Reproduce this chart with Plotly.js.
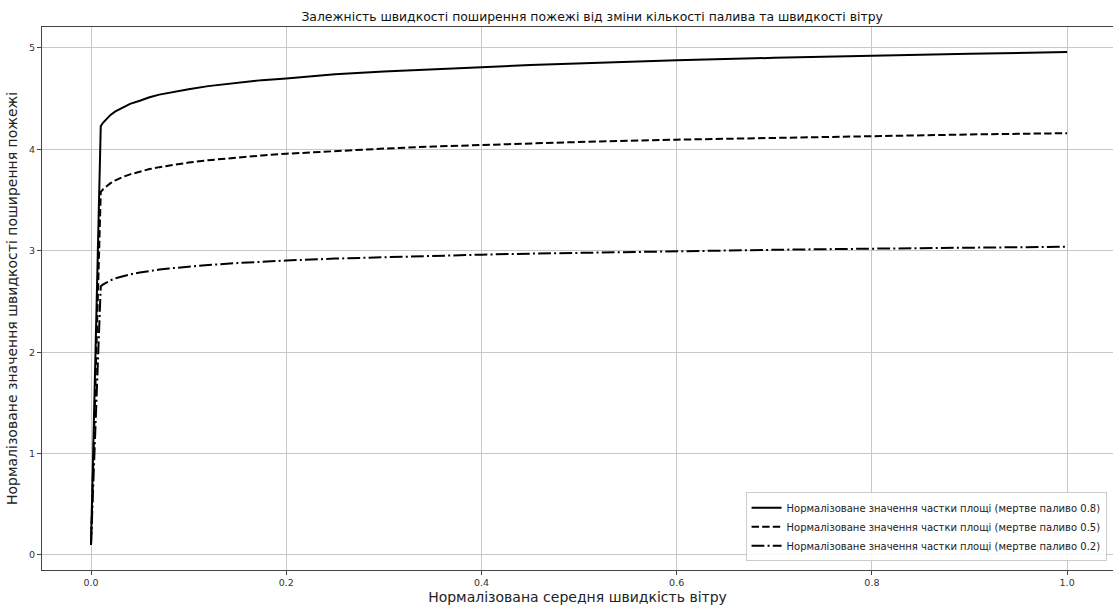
<!DOCTYPE html>
<html>
<head>
<meta charset="utf-8">
<script src="https://cdn.plot.ly/plotly-3.0.1.min.js"></script>
<style>html,body{margin:0;padding:0;overflow:hidden;background:#fff}#chart{width:1113px;height:605px}</style>
</head>
<body>
<div id="chart"></div>
<script>
const windSpeed = [0, 0.01, 0.0125, 0.015, 0.0175, 0.02, 0.025, 0.03, 0.035, 0.04, 0.05, 0.06, 0.07, 0.08, 0.09, 0.1, 0.12, 0.15, 0.175, 0.2, 0.25, 0.3, 0.35, 0.4, 0.45, 0.5, 0.6, 0.7, 0.8, 0.9, 1.0];
const dead08 = [0.10, 4.23, 4.265, 4.29, 4.318, 4.34, 4.375, 4.40, 4.428, 4.449, 4.48, 4.514, 4.54, 4.559, 4.578, 4.594, 4.624, 4.66, 4.683, 4.70, 4.74, 4.769, 4.793, 4.81, 4.833, 4.85, 4.879, 4.903, 4.925, 4.943, 4.96];
const dead05 = [0.10, 3.58, 3.608, 3.631, 3.65, 3.667, 3.695, 3.718, 3.737, 3.754, 3.783, 3.806, 3.825, 3.842, 3.857, 3.87, 3.893, 3.921, 3.94, 3.957, 3.985, 4.008, 4.028, 4.045, 4.059, 4.073, 4.096, 4.115, 4.132, 4.147, 4.16];
const dead02 = [0.10, 2.65, 2.669, 2.684, 2.697, 2.709, 2.728, 2.743, 2.756, 2.767, 2.786, 2.802, 2.815, 2.826, 2.836, 2.845, 2.86, 2.879, 2.892, 2.904, 2.923, 2.938, 2.951, 2.962, 2.972, 2.981, 2.997, 3.01, 3.021, 3.031, 3.04];
const seriesNames = [
  'Нормалізоване значення частки площі (мертве паливо 0.8)',
  'Нормалізоване значення частки площі (мертве паливо 0.5)',
  'Нормалізоване значення частки площі (мертве паливо 0.2)'
];
const xTicks = [0, 0.2, 0.4, 0.6, 0.8, 1.0];
const xTickText = ['0.0', '0.2', '0.4', '0.6', '0.8', '1.0'];
const yTicks = [0, 1, 2, 3, 4, 5];

const font = 'DejaVu Sans, sans-serif';
const dashes = ['solid', '7.4px,3.2px', '12.8px,3.2px,2px,3.2px'];
const ys = [dead08, dead05, dead02];
const traces = ys.map((y, i) => ({
  x: windSpeed, y: y, type: 'scatter', mode: 'lines', name: seriesNames[i],
  line: {color: '#000', width: 2, dash: dashes[i]}
}));

const layout = {
  width: 1113, height: 605,
  margin: {l: 42, r: 0, t: 27, b: 35},
  paper_bgcolor: '#fff', plot_bgcolor: '#fff',
  font: {family: font, color: '#222'},
  title: {text: 'Залежність швидкості поширення пожежі від зміни кількості палива та швидкості вітру',
    font: {family: font, size: 12.4, color: '#111'}, x: 0.532, xanchor: 'center', xref: 'container', y: 0.973, yanchor: 'middle'},
  xaxis: {
    range: [-0.0502, 1.047], tickvals: xTicks, ticktext: xTickText,
    showgrid: true, gridcolor: '#c8c8c8', gridwidth: 1, zeroline: false,
    showline: true, linecolor: '#444', linewidth: 1, mirror: true,
    ticks: 'outside', ticklen: 4, tickcolor: '#444',
    tickfont: {family: font, size: 9.5, color: '#333'},
    title: {text: 'Нормалізована середня швидкість вітру', font: {family: font, size: 14, color: '#222'}, standoff: 4}
  },
  yaxis: {
    range: [-0.148, 5.207], tickvals: yTicks,
    showgrid: true, gridcolor: '#c8c8c8', gridwidth: 1, zeroline: false,
    showline: true, linecolor: '#444', linewidth: 1,
    ticks: 'outside', ticklen: 4, tickcolor: '#444',
    tickfont: {family: font, size: 9.5, color: '#333'},
    title: {text: 'Нормалізоване значення швидкості поширення пожежі', font: {family: font, size: 14, color: '#222'}, standoff: 8}
  },
  legend: {
    x: 0.994, y: 0.016, xanchor: 'right', yanchor: 'bottom',
    bgcolor: 'rgba(255,255,255,0.85)', bordercolor: '#ccc', borderwidth: 1,
    font: {family: font, size: 10, color: '#222'}, tracegroupgap: 0
  },
  showlegend: true
};

Plotly.newPlot('chart', traces, layout, {displayModeBar: false, staticPlot: true});
</script>
</body>
</html>
